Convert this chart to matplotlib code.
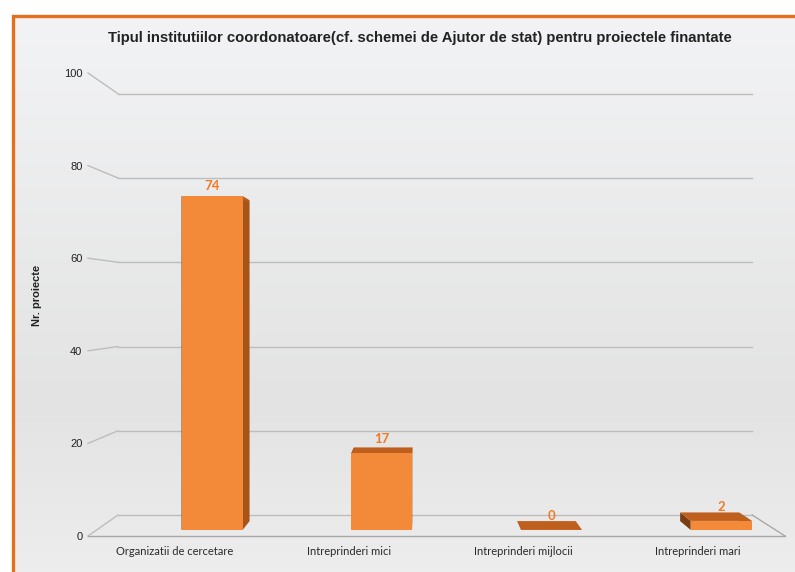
"""
Pseudo-3D column chart: tipul institutiilor coordonatoare.
Output: out.png
"""
import matplotlib
matplotlib.use('Agg')
import matplotlib.pyplot as plt
import numpy as np
from matplotlib.patches import Polygon, Rectangle

# Data
categories = ['Organizatii de cercetare', 'Intreprinderi mici',
              'Intreprinderi mijlocii', 'Intreprinderi mari']
values = [74, 17, 0, 2]
y_ticks = [0, 20, 40, 60, 80, 100]

title = ('Tipul institutiilor coordonatoare(cf. schemei de Ajutor de stat) '
         'pentru proiectele finantate')
ylabel = 'Nr. proiecte'

# Perspective settings (data coordinates of the front plane)
VX, VY = 1.411, 50.3        # vanishing point
S_WALL = 0.91               # back wall depth
S_FRONT, S_BACK = 0.974, 0.936  # bar front / back depth
BAR_W = 0.36

ORANGE = '#F28A3A'
TOP_C = '#BF5F1E'
RIGHT_C = '#A85419'
LEFT_C = '#7A3C12'
GRID_C = '#BDBDBD'


def proj(x, y, s):
    return VX + s * (x - VX), VY + s * (y - VY)


W, H = 795, 572
fig = plt.figure(figsize=(W / 100, H / 100), dpi=100)
fig.patch.set_facecolor('white')

# background gradient inside the orange frame
bg = fig.add_axes([14 / W, 0, 1 - 14 / W, 1 - 17 / H], zorder=-2)
grad = np.linspace(0, 1, 256)[:, None]
cols = np.array([[0.95, 0.953, 0.96], [0.89, 0.89, 0.89], [0.93, 0.93, 0.93]])
pos = [0, 0.7, 1]
img = np.stack([np.interp(grad[:, 0], pos, cols[:, k]) for k in range(3)], axis=-1)
bg.imshow(img[:, None, :].repeat(2, axis=1), aspect='auto', extent=[0, 1, 0, 1])
bg.axis('off')

# orange frame (left and top visible)
fig.patches.append(Rectangle((13 / W, -0.05), 1.1, 1 - 16 / H + 0.05,
                             transform=fig.transFigure, fill=False,
                             edgecolor='#E2701C', linewidth=2.4))

ax = fig.add_axes([88 / W, 36 / H, 697 / W, 463 / H])
ax.set_xlim(-0.5, 3.5)
ax.set_ylim(0, 100)
ax.patch.set_alpha(0)
for sp in ax.spines.values():
    sp.set_visible(False)

# back wall grid lines + left diagonals
x0, x1 = -0.5, len(categories) - 0.5
for t in y_ticks:
    bl = proj(x0, t, S_WALL)
    br = proj(x1, t, S_WALL)
    ax.plot([bl[0], br[0]], [bl[1], br[1]], color=GRID_C, lw=1, clip_on=False, zorder=1)
    ax.plot([x0, bl[0]], [t, bl[1]], color=GRID_C, lw=1, clip_on=False, zorder=1)

# floor front and right edge
br0 = proj(x1, 0, S_WALL)
ax.plot([x0, x1], [0, 0], color='#A8A8A8', lw=1, clip_on=False, zorder=1)
ax.plot([br0[0], x1], [br0[1], 0], color='#A8A8A8', lw=1, clip_on=False, zorder=1)

# bars
for i, v in enumerate(values):
    fl, fb = proj(i, 0, S_FRONT)
    fr, ft = proj(i + BAR_W, v, S_FRONT)
    bl, bb = proj(i, 0, S_BACK)
    brx, bt = proj(i + BAR_W, v, S_BACK)
    # left side, right side, top
    ax.add_patch(Polygon([(fl, fb), (fl, ft), (bl, bt), (bl, bb)],
                         closed=True, facecolor=LEFT_C, edgecolor='none', zorder=3, clip_on=False))
    ax.add_patch(Polygon([(fr, fb), (fr, ft), (brx, bt), (brx, bb)],
                         closed=True, facecolor=RIGHT_C, edgecolor='none', zorder=3, clip_on=False))
    ax.add_patch(Polygon([(fl, ft), (fr, ft), (brx, bt), (bl, bt)],
                         closed=True, facecolor=TOP_C, edgecolor='none', zorder=4, clip_on=False))
    ax.bar(fl, ft - fb, width=fr - fl, bottom=fb, align='edge',
           color=ORANGE, zorder=5, clip_on=False)
    ax.annotate(str(v), ((fl + fr) / 2, min(ft, bt)), xytext=(0, 6),
                textcoords='offset points', ha='center', va='bottom',
                color='#F07A28', fontsize=9.5, fontweight='bold', family='Lato')

ax.set_yticks(y_ticks)
ax.set_yticklabels([str(t) for t in y_ticks], fontsize=8, family='Liberation Sans', color='#222222')
ax.set_xticks(range(len(categories)))
ax.set_xticklabels(categories, fontsize=8, family='Lato', color='#2a2a2a')
ax.tick_params(axis='both', length=0)
ax.tick_params(axis='y', pad=4)
ax.tick_params(axis='x', pad=7)

ax.set_ylabel(ylabel, fontsize=8, fontweight='bold', family='Liberation Sans', color='#222222')
ax.yaxis.set_label_coords(-0.066, 0.52)

fig.text(420 / W, 1 - 38 / H, title, ha='center', va='center',
         fontsize=10.7, fontweight='bold', family='Liberation Sans', color='#222222')

fig.savefig('out.png', dpi=100)
